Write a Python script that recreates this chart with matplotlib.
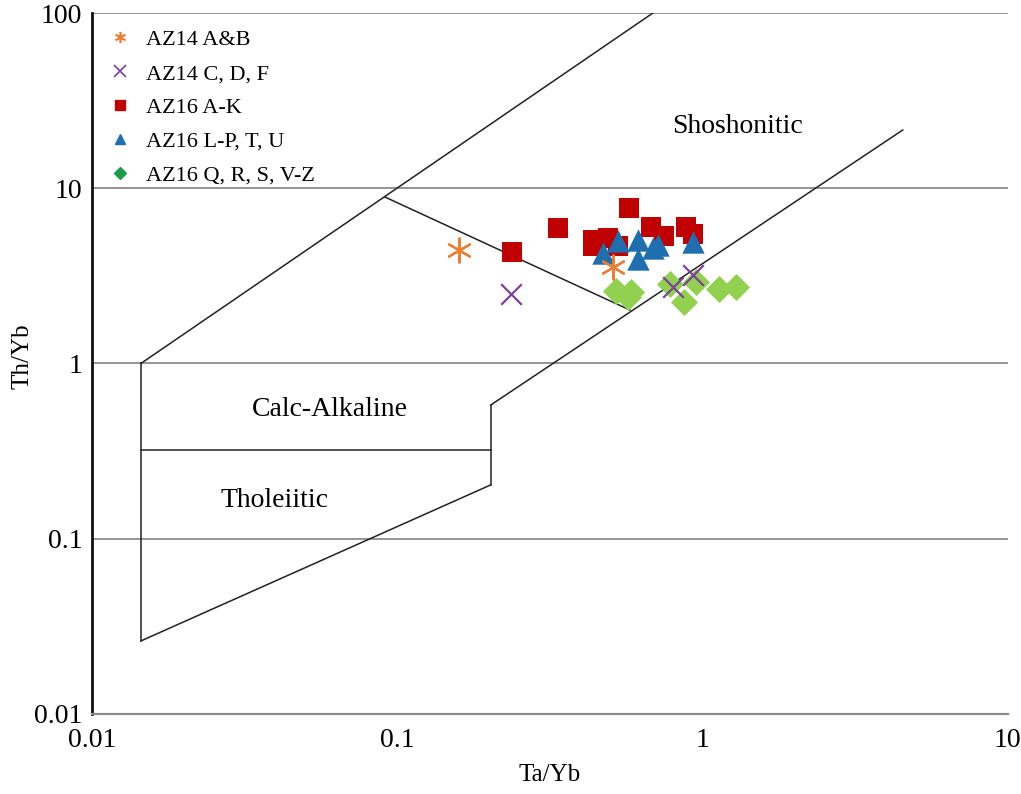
import matplotlib
matplotlib.use("Agg")
import matplotlib.pyplot as plt
from matplotlib.lines import Line2D

plt.rcParams['font.family'] = ['Liberation Serif', 'DejaVu Serif']

# ---- data ----
az14ab_x = [0.160, 0.509]
az14ab_y = [4.44, 3.55]

az14cdf_x = [0.236, 0.930, 0.800]
az14cdf_y = [2.49, 3.20, 2.73]

az16ak_x = [0.574, 0.336, 0.2375, 0.678, 0.748, 0.883, 0.930, 0.4375, 0.4375, 0.490, 0.528]
az16ak_y = [7.71, 5.93, 4.33, 6.01, 5.34, 6.01, 5.48, 5.07, 4.68, 5.20, 4.68]

az16lp_x = [0.472, 0.528, 0.614, 0.614, 0.688, 0.714, 0.930]
az16lp_y = [4.27, 5.00, 5.07, 3.95, 4.56, 4.75, 4.93]

az16qr_x = [0.520, 0.583, 0.570, 0.785, 0.950, 0.870, 1.13, 1.29]
az16qr_y = [2.60, 2.55, 2.40, 2.85, 2.90, 2.25, 2.65, 2.75]

# field boundaries (Pearce 1982 style)
upper_x = [0.01447, 0.688]
upper_y = [1.0, 100.0]
left_x = [0.01447, 0.01447]
left_y = [0.0261, 1.0]
cut_x = [0.0912, 0.578]
cut_y = [8.91, 2.02]
right_x = [0.2027, 4.53]
right_y = [0.58, 21.5]
step_x = [0.2027, 0.2027]
step_y = [0.203, 0.58]
lower_x = [0.01447, 0.2027]
lower_y = [0.0261, 0.203]
ct_x = [0.01447, 0.2027]
ct_y = [0.32, 0.32]

xticks = [0.01, 0.1, 1, 10]
xticklabels = ["0.01", "0.1", "1", "10"]
yticks = [0.01, 0.1, 1, 10, 100]
yticklabels = ["0.01", "0.1", "1", "10", "100"]

fig = plt.figure(figsize=(10.21, 7.94), dpi=100)
ax = fig.add_axes([0.090, 0.1008, 0.897, 0.8828])
ax.set_xscale('log')
ax.set_yscale('log')
ax.set_xlim(0.01, 10)
ax.set_ylim(0.01, 100)

for g in [0.1, 1, 10, 100]:
    ax.axhline(g, color='#8c8c8c', lw=1.3, zorder=1)

lc = dict(color='#222222', lw=1.1, zorder=2)
for xs, ys in [(upper_x, upper_y), (left_x, left_y), (cut_x, cut_y), (right_x, right_y),
               (step_x, step_y), (lower_x, lower_y), (ct_x, ct_y)]:
    ax.plot(xs, ys, **lc)

c_or = '#ED7D31'
c_pu = '#7E3F9D'
c_re = '#C00000'
c_bl = '#1F6EB0'
c_gr = '#92D050'
c_gr_leg = '#1E9B48'

ax.scatter(az16ak_x, az16ak_y, marker='s', s=200, color=c_re, zorder=3, linewidths=0)
ax.scatter(az16lp_x, az16lp_y, marker='^', s=260, color=c_bl, zorder=4, linewidths=0)
ax.scatter(az16qr_x, az16qr_y, marker='D', s=190, color=c_gr, zorder=3, linewidths=0)
ax.scatter(az14cdf_x, az14cdf_y, marker='x', s=220, color=c_pu, zorder=3, linewidths=1.6)
ax.scatter(az14ab_x, az14ab_y, marker=(6, 2, 0), s=300, color=c_or, zorder=5, linewidths=1.6)

ax.text(1.30, 22.4, "Shoshonitic", fontsize=20, ha='center', va='center')
ax.text(0.0602, 0.543, "Calc-Alkaline", fontsize=20, ha='center', va='center')
ax.text(0.0397, 0.166, "Tholeiitic", fontsize=20, ha='center', va='center')

handles = [
    Line2D([], [], ls='none', marker=(6, 2, 0), ms=8, color=c_or, mew=1.2),
    Line2D([], [], ls='none', marker='x', ms=8, color=c_pu, mew=1.2),
    Line2D([], [], ls='none', marker='s', ms=6.5, color=c_re),
    Line2D([], [], ls='none', marker='^', ms=7.5, color=c_bl),
    Line2D([], [], ls='none', marker='D', ms=6.5, color=c_gr_leg),
]
labels = ["AZ14 A&B", "AZ14 C, D, F", "AZ16 A-K", "AZ16 L-P, T, U", "AZ16 Q, R, S, V-Z"]
ax.legend(handles, labels, loc='upper left', bbox_to_anchor=(0.0, 1.0), frameon=False,
          fontsize=16, handlelength=1.0, handletextpad=0.7, labelspacing=0.6,
          borderaxespad=0.35)

ax.set_xticks(xticks)
ax.set_xticklabels(xticklabels)
ax.set_yticks(yticks)
ax.set_yticklabels(yticklabels)
ax.minorticks_off()
ax.tick_params(axis='x', length=0, labelsize=20, pad=10)
ax.tick_params(axis='y', length=0, labelsize=20, pad=7)

for s in ['top', 'right']:
    ax.spines[s].set_visible(False)
ax.spines['left'].set_color('#111111')
ax.spines['left'].set_linewidth(2.0)
ax.spines['bottom'].set_color('#8c8c8c')
ax.spines['bottom'].set_linewidth(1.6)

ax.set_xlabel("Ta/Yb", fontsize=18)
ax.set_ylabel("Th/Yb", fontsize=18)
ax.xaxis.set_label_coords(0.5, -0.072)
ax.yaxis.set_label_coords(-0.064, 0.51)

fig.savefig("out.png", dpi=100)
